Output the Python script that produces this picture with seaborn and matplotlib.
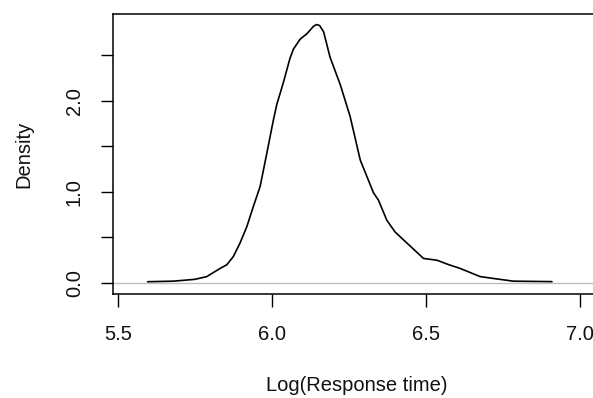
import matplotlib
matplotlib.use("Agg")
import matplotlib.pyplot as plt
import seaborn as sns
import pandas as pd

# Density curve
log_rt = [5.597, 5.68, 5.75, 5.789, 5.832, 5.854, 5.875, 5.897, 5.919, 5.94,
          5.962, 5.984, 6.005, 6.016, 6.038, 6.059, 6.07, 6.092, 6.114, 6.135,
          6.145, 6.155, 6.168, 6.189, 6.222, 6.254, 6.287, 6.33, 6.346, 6.373,
          6.4, 6.438, 6.492, 6.536, 6.575, 6.611, 6.676, 6.74, 6.784, 6.909]
density = [0.014, 0.02, 0.04, 0.07, 0.16, 0.20, 0.29, 0.44, 0.62, 0.84,
           1.06, 1.43, 1.79, 1.96, 2.21, 2.47, 2.57, 2.68, 2.74, 2.82,
           2.84, 2.83, 2.76, 2.48, 2.18, 1.83, 1.35, 0.99, 0.91, 0.69,
           0.56, 0.44, 0.27, 0.25, 0.20, 0.16, 0.07, 0.04, 0.02, 0.015]

x_ticks = [5.5, 6.0, 6.5, 7.0]
x_tick_labels = ["5.5", "6.0", "6.5", "7.0"]
y_ticks = [0.0, 0.5, 1.0, 1.5, 2.0, 2.5]
y_tick_labels = ["0.0", "", "1.0", "", "2.0", ""]

df = pd.DataFrame({"Log(Response time)": log_rt, "Density": density})

sns.set_style("white")
plt.rcParams["font.family"] = ["Liberation Sans", "DejaVu Sans"]

W, H = 593, 398
fig = plt.figure(figsize=(W / 100, H / 100), dpi=100)
left, right, top, bottom = 113, 601, 14, 294
ax = fig.add_axes([left / W, (H - bottom) / H, (right - left) / W, (bottom - top) / H])

ax.axhline(0, color="#BEBEBE", lw=1.0, zorder=1)
sns.lineplot(data=df, x="Log(Response time)", y="Density", ax=ax,
             color="black", lw=1.2, sort=False, zorder=2)

ax.set_xlim(5.4847, 7.068)
ax.set_ylim(-0.121, 2.956)

ax.set_xticks(x_ticks)
ax.set_xticklabels(x_tick_labels)
ax.set_yticks(y_ticks)
ax.set_yticklabels(y_tick_labels, rotation=90, va="center")

for s in ax.spines.values():
    s.set_visible(True)
    s.set_color("black")
    s.set_linewidth(1.1)

ax.tick_params(axis="both", direction="out", length=9, width=1.0, color="black",
               labelsize=14.5, labelcolor="#111111")
ax.tick_params(axis="x", pad=13, bottom=True)
ax.tick_params(axis="y", pad=12, left=True)

ax.set_xlabel("Log(Response time)", fontsize=14.5, color="#111111", va="top")
ax.set_ylabel("Density", fontsize=14.5, color="#111111", va="bottom")
ax.xaxis.set_label_coords(0.5, (bottom - 376) / (bottom - top))
ax.yaxis.set_label_coords((33 - left) / (right - left), 0.5)

fig.savefig("out.png", dpi=100)
